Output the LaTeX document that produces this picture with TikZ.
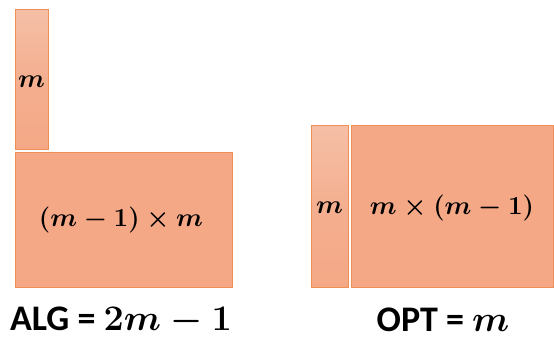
\RequirePackage{fix-cm}
\documentclass[tikz,border=0pt]{standalone}
\usepackage{fontspec}
\newfontfamily\calib{Carlito}
\definecolor{fillc}{HTML}{F4A886}
\definecolor{topc}{HTML}{F5BFA6}
\definecolor{edgec}{HTML}{EF8E57}
\begin{document}
\begin{tikzpicture}[x=1pt,y=-1pt,
  box/.style={draw=edgec, line width=0.9pt, fill=fillc, inner sep=0pt, anchor=north west},
  strip/.style={box, top color=topc, bottom color=fillc, middle color=fillc!70!topc},
  lab/.style={font=\fontsize{26}{30}\selectfont\boldmath, inner sep=0pt},
  big/.style={font=\fontsize{36}{40}\selectfont\calib\bfseries\boldmath, inner sep=0pt}]
\useasboundingbox (0,0) rectangle (554,339);
\node[strip, minimum width=33pt, minimum height=140pt] (s1) at (15,9) {};
\node[box, minimum width=217pt, minimum height=135pt] (b1) at (15,152) {};
\node[strip, minimum width=37pt, minimum height=162pt] (s2) at (311,125) {};
\node[box, minimum width=202pt, minimum height=162pt] (b2) at (351,125) {};
\node[lab] (l1) at (31.5,82) {$m$};
\node[lab] (l2) at (121,220) {$(m-1)\times m$};
\node[lab] (l3) at (329.5,208) {$m$};
\node[lab] (l4) at (452,208) {$m\times(m-1)$};
\node[big, anchor=base] (alg) at (121,330) {ALG = $2m-1$};
\node[big, anchor=base] (opt) at (443,331) {OPT = $m$};
\end{tikzpicture}
\end{document}
